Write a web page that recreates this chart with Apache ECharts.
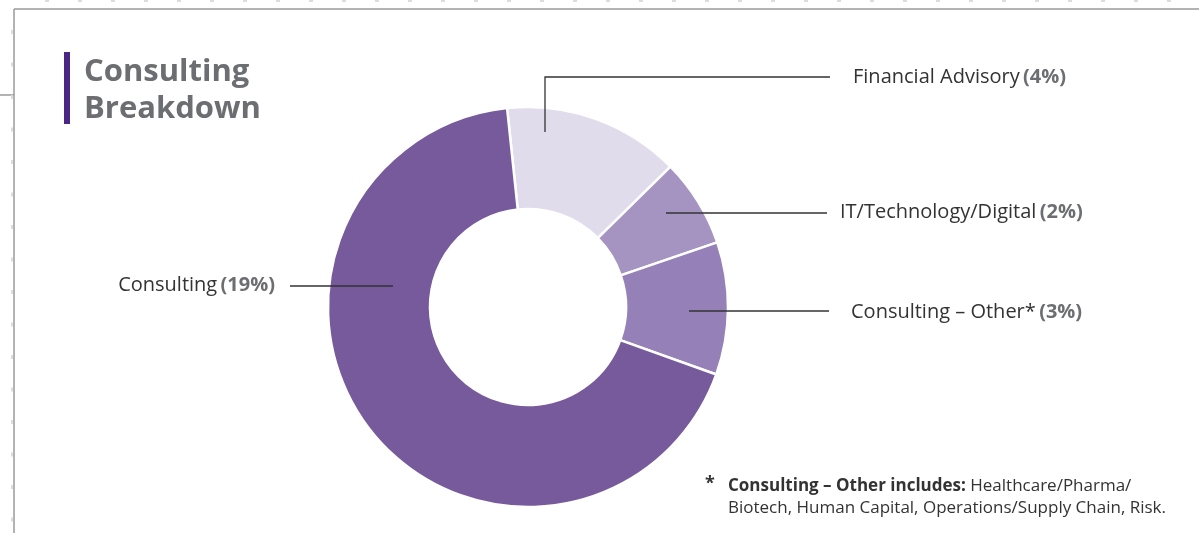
<!DOCTYPE html>
<html><head><meta charset="utf-8">
<script src="https://cdn.jsdelivr.net/npm/echarts@6/dist/echarts.min.js"></script>
<style>html,body{margin:0;padding:0;background:#fff}#c{width:1199px;height:533px}</style>
</head><body><div id="c"></div>
<script>
const categories = ['Financial Advisory', 'IT/Technology/Digital', 'Consulting – Other*', 'Consulting'];
const values = [4, 2, 3, 19];
const colors = ['#e0dcec', '#a594c1', '#9580b7', '#765a9c'];
const titleText = 'Consulting\nBreakdown';
const noteBold = 'Consulting – Other includes:';
const noteRest1 = ' Healthcare/Pharma/';
const noteRest2 = 'Biotech, Human Capital, Operations/Supply Chain, Risk.';

// label placement (layout only)
const labelPos = [
  {x: 853, y: 77, align: 'left', line: [[545,132],[545,77],[830,77]]},
  {x: 840, y: 212, align: 'left', line: [[666,213],[827,213]]},
  {x: 851, y: 312, align: 'left', line: [[689,311],[829,311]]},
  {x: 275, y: 285, align: 'right', line: [[393,286],[290,286]]}
];

const chart = echarts.init(document.getElementById('c'), null, {renderer: 'canvas'});
const FONT = '"Open Sans", Roboto, sans-serif';

const graphics = [
  {type: 'line', shape: {x1: 14, y1: 9, x2: 1199, y2: 9}, style: {stroke: '#9a9a9a', lineWidth: 1.5}},
  {type: 'line', shape: {x1: 14, y1: 9, x2: 14, y2: 533}, style: {stroke: '#9a9a9a', lineWidth: 1.5}},
  {type: 'line', shape: {x1: 0, y1: 95, x2: 14, y2: 95}, style: {stroke: '#9a9a9a', lineWidth: 1.5}},
  {type: 'rect', shape: {x: 64, y: 52, width: 6, height: 72}, style: {fill: '#4b2683'}},
  {type: 'text', x: 84, y: 54, style: {text: titleText, font: 'bold 31px ' + FONT, fill: '#6d6e71', lineHeight: 37}},
  {type: 'text', x: 705, y: 475, style: {text: '*', font: 'bold 18px ' + FONT, fill: '#333'}},
  {type: 'text', x: 728, y: 475, style: {
    text: '{b|' + noteBold + '}{r|' + noteRest1 + '}\n{r|' + noteRest2 + '}',
    rich: {b: {font: 'bold 17px ' + FONT, fill: '#333', lineHeight: 22}, r: {font: '17px ' + FONT, fill: '#333', lineHeight: 22}}
  }}
];
// leader lines drawn on top of slices
labelPos.forEach(L => graphics.push({type: 'polyline', z: 100, shape: {points: L.line}, style: {stroke: '#333', lineWidth: 1.3, fill: null}}));
// faint tick marks along frame
for (let y = 30; y < 533; y += 32.5) graphics.push({type: 'rect', shape: {x: 11, y: y, width: 2, height: 4}, style: {fill: '#dcdcdc'}});
for (let x = 45; x < 1199; x += 33) graphics.push({type: 'rect', shape: {x: x, y: 0, width: 4, height: 2}, style: {fill: '#dcdcdc'}});

chart.setOption({
  backgroundColor: '#fff',
  animation: false,
  graphic: graphics,
  series: [{
    type: 'pie',
    center: [528, 307],
    radius: [98, 200],
    startAngle: 96,
    clockwise: true,
    avoidLabelOverlap: false,
    itemStyle: {borderColor: '#fff', borderWidth: 2.5},
    data: categories.map((c, i) => ({name: c, value: values[i], itemStyle: {color: colors[i]}})),
    label: {
      show: true,
      formatter: p => '{n|' + p.name + '} {v|(' + p.value + '%)}',
      rich: {
        n: {fontFamily: FONT, fontSize: 20, color: '#333'},
        v: {fontFamily: FONT, fontSize: 20, fontWeight: 'bold', color: '#6d6e71'}
      }
    },
    labelLine: {show: false},
    labelLayout: function (p) {
      const L = labelPos[p.dataIndex];
      return {x: L.x, y: L.y, align: L.align, verticalAlign: 'middle'};
    },
    emphasis: {disabled: true}
  }]
});
</script></body></html>
